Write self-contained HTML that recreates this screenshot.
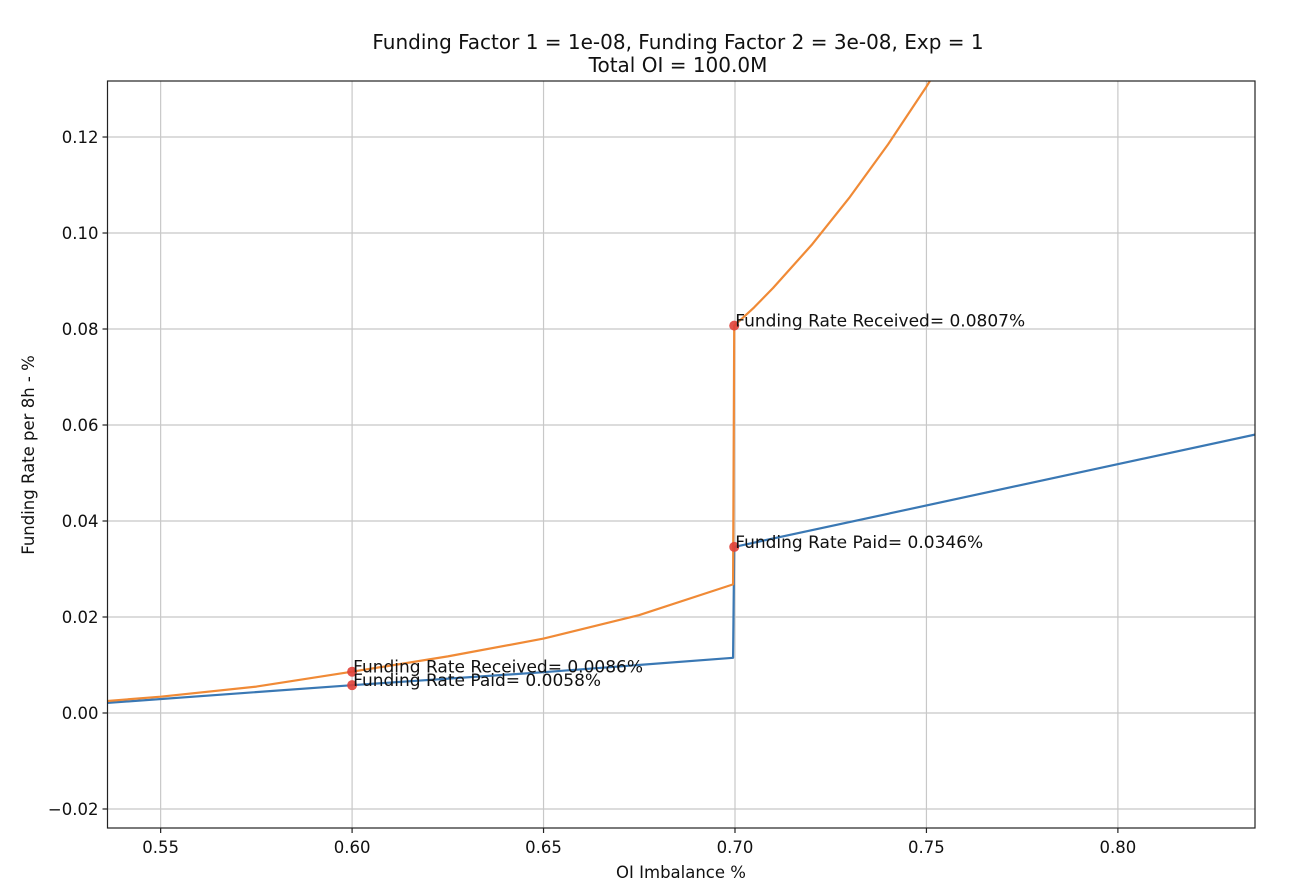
<!DOCTYPE html>
<html><head><meta charset="utf-8"><style>
body{margin:0;background:#fff;}
svg{display:block;font-family:"DejaVu Sans","Liberation Sans",sans-serif;}
</style></head><body>
<svg id="chart" width="1292" height="889" viewBox="0 0 1292 889">
<defs><clipPath id="pc"><rect x="107.5" y="81" width="1147.5" height="747"/></clipPath></defs>
<g id="grid"></g>
<g id="series" clip-path="url(#pc)"></g>
<g id="marks"></g>
<rect x="107.5" y="81" width="1147.5" height="747" fill="none" stroke="#222" stroke-width="1.2"/>
<g id="axes"></g>
<text x="678" y="49" text-anchor="middle" font-size="20" fill="#111">Funding Factor 1 = 1e-08, Funding Factor 2 = 3e-08, Exp = 1</text>
<text x="678" y="72" text-anchor="middle" font-size="20" fill="#111">Total OI = 100.0M</text>
<text x="681" y="878" text-anchor="middle" font-size="16.5" fill="#111">OI Imbalance %</text>
<text transform="translate(34,455) rotate(-90)" text-anchor="middle" font-size="16.5" fill="#111">Funding Rate per 8h - %</text>
</svg>
<script>
const xTicks=[0.55,0.60,0.65,0.70,0.75,0.80];
const xTickLabels=["0.55","0.60","0.65","0.70","0.75","0.80"];
const yTicks=[-0.02,0,0.02,0.04,0.06,0.08,0.10,0.12];
const yTickLabels=["\u22120.02","0.00","0.02","0.04","0.06","0.08","0.10","0.12"];
const receivedX=[0.536,0.55,0.575,0.6,0.625,0.65,0.675,0.6995,0.6998,0.705,0.71,0.72,0.73,0.74,0.75,0.755];
const receivedY=[0.0025,0.0034,0.0055,0.0086,0.0118,0.0155,0.0204,0.0268,0.0807,0.0845,0.0886,0.0975,0.1075,0.1185,0.1305,0.137];
const paidX=[0.536,0.6,0.65,0.6995,0.6998,0.8358];
const paidY=[0.0021,0.0058,0.0085,0.0115,0.0346,0.0580];
const annX=[0.6,0.6,0.6998,0.6998];
const annY=[0.0086,0.0058,0.0807,0.0346];
const annLabels=["Funding Rate Received= 0.0086%","Funding Rate Paid= 0.0058%","Funding Rate Received= 0.0807%","Funding Rate Paid= 0.0346%"];
const X0=107.5,X1=1255,XMIN=0.53612,XMAX=0.83581;
const Y0=828,Y1=81,YMIN=-0.02396,YMAX=0.13167;
const sx=v=>X0+(v-XMIN)/(XMAX-XMIN)*(X1-X0);
const sy=v=>Y0-(v-YMIN)/(YMAX-YMIN)*(Y0-Y1);
const NS="http://www.w3.org/2000/svg";
function mk(tag,attrs,parent){const e=document.createElementNS(NS,tag);for(const k in attrs)e.setAttribute(k,attrs[k]);parent.appendChild(e);return e;}
const grid=document.getElementById('grid'),axes=document.getElementById('axes');
xTicks.forEach((t,i)=>{const x=sx(t);
 const g=mk('line',{x1:x,x2:x,y1:Y1,y2:Y0,stroke:'#c8c8c8','stroke-width':1.2},grid);
 
 
 const tk=mk('line',{x1:x,x2:x,y1:Y0,y2:Y0+5,stroke:'#222','stroke-width':1.2},axes);
 
 
 const tx=mk('text',{x:x,y:Y0+25,'text-anchor':'middle','font-size':16.5,fill:'#111'},axes);tx.textContent=xTickLabels[i];
 
 
});
yTicks.forEach((t,i)=>{const y=sy(t);
 const g=mk('line',{x1:X0,x2:X1,y1:y,y2:y,stroke:'#c8c8c8','stroke-width':1.2},grid);
 
 
 const tk=mk('line',{x1:X0-5,x2:X0,y1:y,y2:y,stroke:'#222','stroke-width':1.2},axes);
 
 
 const tx=mk('text',{x:X0-9,y:y+6,'text-anchor':'end','font-size':16.5,fill:'#111'},axes);tx.textContent=yTickLabels[i];
 
 
});
const ser=document.getElementById('series');
function line(xs,ys,color,name){const d=xs.map((v,i)=>(i?'L':'M')+sx(v).toFixed(2)+','+sy(ys[i]).toFixed(2)).join(' ');
 const p=mk('path',{d:d,fill:'none',stroke:color,'stroke-width':2.2,'stroke-linejoin':'round'},ser);
 
 }
line(paidX,paidY,'#3a78b4','paid-rate-line');
line(receivedX,receivedY,'#f08a36','received-rate-line');
const marks=document.getElementById('marks');
annX.forEach((v,i)=>{const x=sx(v),y=sy(annY[i]);
 const c=mk('circle',{cx:x,cy:y,r:5,fill:'#e0413a','fill-opacity':0.9},marks);
 
 
 const t=mk('text',{x:x+1,y:y+1,'font-size':17,fill:'#111'},marks);t.textContent=annLabels[i];
 
 
});
</script>
</body></html>
